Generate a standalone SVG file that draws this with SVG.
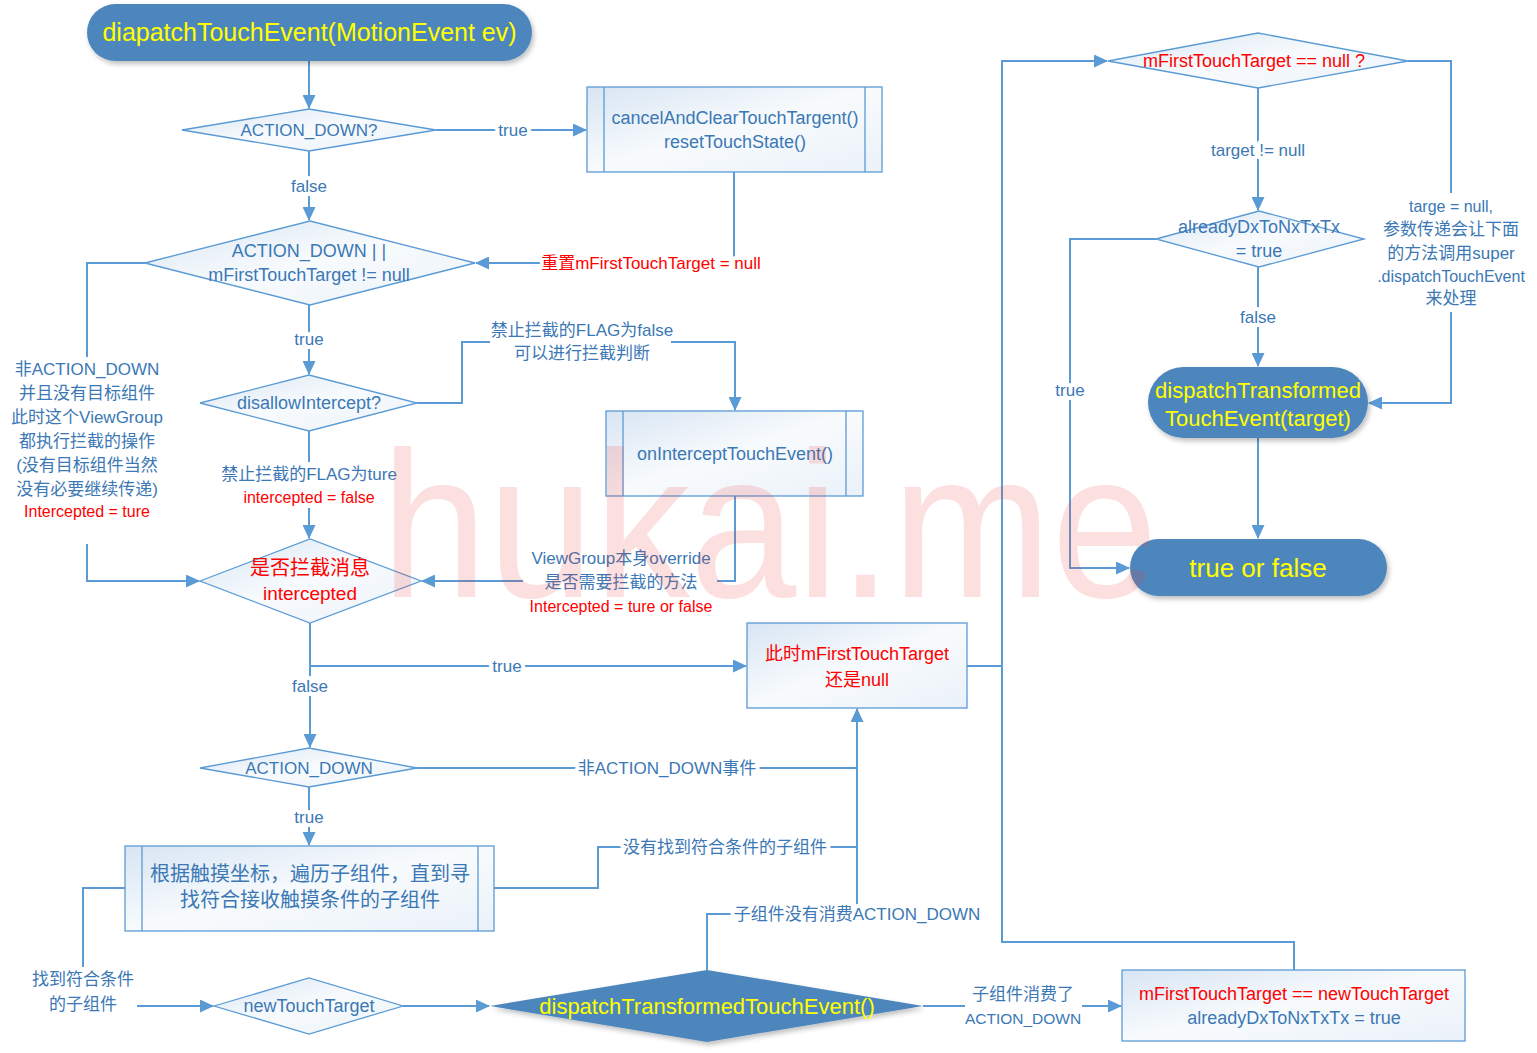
<svg xmlns="http://www.w3.org/2000/svg" width="1537" height="1053" viewBox="0 0 1537 1053">
<defs>
<style>
.ln{fill:none;stroke:#5b9bd5;stroke-width:2}
.ar{marker-end:url(#ah)}
.sh{fill:url(#g);stroke:#5b9bd5;stroke-width:1.3}
.in{fill:none;stroke:#5b9bd5;stroke-width:1.3}
.term{fill:#4d86bd;filter:url(#ds)}
.t{font-family:"Liberation Sans","Noto Sans CJK SC",sans-serif;text-anchor:middle;dominant-baseline:central;font-size:18px}
.b{fill:#3b78b5}
.r{fill:#f00}
.y{fill:#ff0}
.l{font-size:17px;paint-order:stroke;stroke:#fff;stroke-width:8px;stroke-linejoin:round}
</style>
<linearGradient id="g" x1="0" y1="0" x2="1" y2="1">
<stop offset="0" stop-color="#d8e5f3"/>
<stop offset="0.5" stop-color="#f8fbfd"/>
<stop offset="1" stop-color="#eaf1f9"/>
</linearGradient>
<marker id="ah" markerUnits="userSpaceOnUse" markerWidth="14" markerHeight="13" refX="13" refY="6.5" orient="auto">
<path d="M0,0 L14,6.5 L0,13 z" fill="#5b9bd5"/>
</marker>
<filter id="ds" x="-10%" y="-20%" width="125%" height="150%">
<feDropShadow dx="2" dy="3" stdDeviation="2.5" flood-color="#000" flood-opacity="0.25"/>
</filter>
</defs>
<rect width="1537" height="1053" fill="#fff"/>

<g id="connectors">
<path class="ln ar" d="M309,61 V108"/>
<path class="ln ar" d="M436,130 H586"/>
<path class="ln ar" d="M309,151 V220"/>
<path class="ln ar" d="M734,172 V263 H476"/>
<path class="ln" d="M145,263 H87 V357"/>
<path class="ln ar" d="M87,544 V581 H199"/>
<path class="ln ar" d="M309,305 V374"/>
<path class="ln" d="M417,403 H462 V342 H490"/>
<path class="ln ar" d="M671,342 H735 V410"/>
<path class="ln" d="M735,496 V581 H717"/>
<path class="ln ar" d="M523,581 H422"/>
<path class="ln" d="M309,431 V462"/>
<path class="ln ar" d="M309,508 V538"/>
<path class="ln ar" d="M310,623 V666 H746"/>
<path class="ln ar" d="M310,666 V747"/>
<path class="ln" d="M417,768 H580"/>
<path class="ln" d="M754,768 H857"/>
<path class="ln ar" d="M309,787 V845"/>
<path class="ln" d="M494,888 H598 V847 H857"/>
<path class="ln ar" d="M707,970 V914 H857 V709"/>
<path class="ln" d="M125,888 H83 V967"/>
<path class="ln ar" d="M137,1006 H213"/>
<path class="ln ar" d="M403,1006 H489"/>
<path class="ln" d="M923,1006 H965"/>
<path class="ln ar" d="M1082,1006 H1121"/>
<path class="ln ar" d="M1294,970 V942 H1002 V61 H1107"/>
<path class="ln" d="M967,666 H1002"/>
<path class="ln ar" d="M1258,88 V210"/>
<path class="ln" d="M1408,61 H1451 V193"/>
<path class="ln ar" d="M1451,312 V403 H1369"/>
<path class="ln ar" d="M1156,239 H1070 V568 H1129"/>
<path class="ln ar" d="M1258,267 V366"/>
<path class="ln ar" d="M1258,438 V538"/>

<text class="t l b" x="513" y="130">true</text>
<text class="t l b" x="309" y="186">false</text>
<text class="t l r" x="651" y="263">重置mFirstTouchTarget = null</text>
<text class="t l b" x="87" y="369">非ACTION_DOWN</text>
<text class="t l b" x="87" y="393">并且没有目标组件</text>
<text class="t l b" x="87" y="417">此时这个ViewGroup</text>
<text class="t l b" x="87" y="441">都执行拦截的操作</text>
<text class="t l b" x="87" y="465">(没有目标组件当然</text>
<text class="t l b" x="87" y="489">没有必要继续传递)</text>
<text class="t l r" x="87" y="511" style="font-size:16px">Intercepted = ture</text>
<text class="t l b" x="309" y="339">true</text>
<text class="t l b" x="582" y="330">禁止拦截的FLAG为false</text>
<text class="t l b" x="582" y="353">可以进行拦截判断</text>
<text class="t l b" x="621" y="558">ViewGroup本身override</text>
<text class="t l b" x="621" y="582">是否需要拦截的方法</text>
<text class="t l r" x="621" y="606" style="font-size:16px">Intercepted = ture or false</text>
<text class="t l b" x="309" y="474">禁止拦截的FLAG为ture</text>
<text class="t l r" x="309" y="497" style="font-size:16px">intercepted = false</text>
<text class="t l b" x="507" y="666">true</text>
<text class="t l b" x="310" y="686">false</text>
<text class="t l b" x="667" y="768">非ACTION_DOWN事件</text>
<text class="t l b" x="309" y="817">true</text>
<text class="t l b" x="725" y="847">没有找到符合条件的子组件</text>
<text class="t l b" x="857" y="914">子组件没有消费ACTION_DOWN</text>
<text class="t l b" x="83" y="979">找到符合条件</text>
<text class="t l b" x="83" y="1004">的子组件</text>
<text class="t l b" x="1023" y="994">子组件消费了</text>
<text class="t l b" x="1023" y="1018" style="font-size:15.5px">ACTION_DOWN</text>
<text class="t l b" x="1258" y="150">target != null</text>
<text class="t l b" x="1451" y="206" style="font-size:16px">targe = null,</text>
<text class="t l b" x="1451" y="229">参数传递会让下面</text>
<text class="t l b" x="1451" y="253">的方法调用super</text>
<text class="t l b" x="1451" y="276" style="font-size:16px">.dispatchTouchEvent</text>
<text class="t l b" x="1451" y="298">来处理</text>
<text class="t l b" x="1070" y="390">true</text>
<text class="t l b" x="1258" y="317">false</text>
</g>

<g id="n_start">
<rect class="term" x="87" y="4" width="445" height="57" rx="28.5"/>
<text class="t y" x="309.5" y="32" style="font-size:25px">diapatchTouchEvent(MotionEvent ev)</text>
</g>
<g id="n_actiondown1">
<polygon class="sh" points="182,130 309,109 436,130 309,151"/>
<text class="t b" x="309" y="130" style="font-size:17px">ACTION_DOWN?</text>
</g>
<g id="n_cancel">
<rect class="sh" x="587" y="87" width="295" height="85"/>
<path class="in" d="M604,87 V172 M865,87 V172"/>
<text class="t b" x="735" y="118">cancelAndClearTouchTargent()</text>
<text class="t b" x="735" y="142">resetTouchState()</text>
</g>
<g id="n_actiondown2">
<polygon class="sh" points="145,263 310,221 475,263 310,305"/>
<text class="t b" x="309" y="251">ACTION_DOWN | |</text>
<text class="t b" x="309" y="275">mFirstTouchTarget != null</text>
</g>
<g id="n_disallow">
<polygon class="sh" points="200,403 309,375 417,403 309,431"/>
<text class="t b" x="309" y="403">disallowIntercept?</text>
</g>
<g id="n_onintercept">
<rect class="sh" x="606" y="411" width="257" height="85"/>
<path class="in" d="M623,411 V496 M846,411 V496"/>
<text class="t b" x="735" y="454">onInterceptTouchEvent()</text>
</g>
<g id="n_intercepted">
<polygon class="sh" points="200,581 310,539 421,581 310,623"/>
<text class="t r" x="310" y="568" style="font-size:20px">是否拦截消息</text>
<text class="t r" x="310" y="593" style="font-size:19px">intercepted</text>
</g>
<g id="n_stillnull">
<rect class="sh" x="747" y="623" width="220" height="85"/>
<text class="t r" x="857" y="654">此时mFirstTouchTarget</text>
<text class="t r" x="857" y="680">还是null</text>
</g>
<g id="n_actiondown3">
<polygon class="sh" points="200,768 309,748 417,768 309,787"/>
<text class="t b" x="309" y="768" style="font-size:17px">ACTION_DOWN</text>
</g>
<g id="n_find">
<rect class="sh" x="125" y="846" width="369" height="85"/>
<path class="in" d="M142,846 V931 M478,846 V931"/>
<text class="t b" x="310" y="874" style="font-size:20px">根据触摸坐标，遍历子组件，直到寻</text>
<text class="t b" x="310" y="900" style="font-size:20px">找符合接收触摸条件的子组件</text>
</g>
<g id="n_newtouchtarget">
<polygon class="sh" points="214,1006 309,978 403,1006 309,1034"/>
<text class="t b" x="309" y="1006">newTouchTarget</text>
</g>
<g id="n_dispatch">
<polygon class="term" points="490,1006 707,970 923,1006 707,1042"/>
<text class="t y" x="707" y="1006" style="font-size:22px">dispatchTransformedTouchEvent()</text>
</g>
<g id="n_assign">
<rect class="sh" x="1122" y="970" width="343" height="71"/>
<text class="t r" x="1294" y="994">mFirstTouchTarget == newTouchTarget</text>
<text class="t b" x="1294" y="1018">alreadyDxToNxTxTx = true</text>
</g>
<g id="n_nullcheck">
<polygon class="sh" points="1108,61 1258,33 1408,61 1258,88"/>
<text class="t r" x="1254" y="61">mFirstTouchTarget == null ?</text>
</g>
<g id="n_already">
<polygon class="sh" points="1156,239 1259,211 1364,239 1259,267"/>
<text class="t b" x="1259" y="227">alreadyDxToNxTxTx</text>
<text class="t b" x="1259" y="251">= true</text>
</g>
<g id="n_dte_target">
<rect class="term" x="1148" y="367" width="220" height="71" rx="35.5"/>
<text class="t y" x="1258" y="390" style="font-size:22px">dispatchTransformed</text>
<text class="t y" x="1258" y="418" style="font-size:22px">TouchEvent(target)</text>
</g>
<g id="n_result">
<rect class="term" x="1130" y="539" width="257" height="57" rx="28.5"/>
<text class="t y" x="1258" y="568" style="font-size:26px">true or false</text>
</g>

<g id="watermark">
<text x="381" y="597" textLength="777" lengthAdjust="spacingAndGlyphs" style="font-family:'Liberation Sans',sans-serif;font-size:208px;fill:#f03c3c;opacity:0.16">hukai.me</text>
</g>
</svg>
